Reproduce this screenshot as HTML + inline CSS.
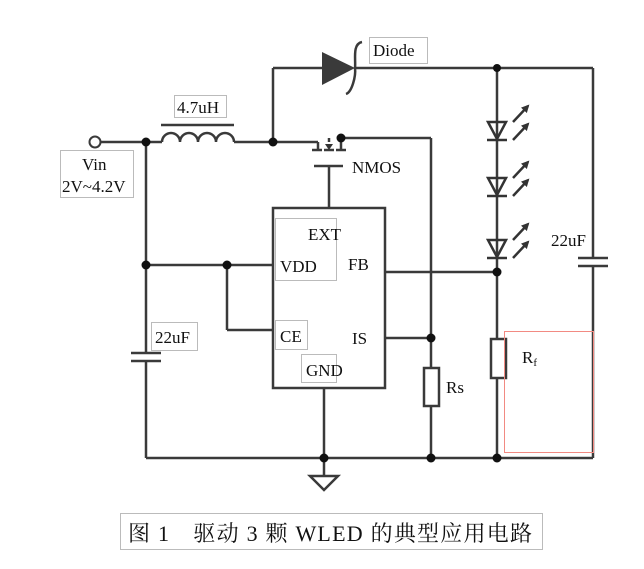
<!DOCTYPE html>
<html><head><meta charset="utf-8"><style>
html,body{margin:0;padding:0;background:#fff;}
svg{display:block;}
text{font-family:"Liberation Serif","Noto Serif CJK SC",serif;fill:#111;}
</style></head><body>
<svg width="644" height="569" viewBox="0 0 644 569" xmlns="http://www.w3.org/2000/svg">
<defs>
<marker id="ar" markerWidth="8" markerHeight="8" refX="6" refY="4" orient="auto" markerUnits="userSpaceOnUse">
<path d="M0,0 L8,4 L0,8 Z" fill="#333"/>
</marker>
<g id="led">
<path d="M-9,0 L9,0 L0,17 Z" fill="none" stroke="#333" stroke-width="2.5"/>
<line x1="-10" y1="18" x2="10" y2="18" stroke="#333" stroke-width="2.5"/>
<line x1="16" y1="18" x2="31" y2="2" stroke="#333" stroke-width="2.5" marker-end="url(#ar)"/>
<line x1="16" y1="0" x2="31" y2="-16" stroke="#333" stroke-width="2.5" marker-end="url(#ar)"/>
</g>
</defs>
<g stroke="#3a3a3a" stroke-width="2.5" fill="none">
<circle cx="95" cy="142" r="5.5" stroke-width="2"/>
<line x1="101" y1="142" x2="162" y2="142"/>
<path d="M162,142 a9,9 0 0 1 18,0 a9,9 0 0 1 18,0 a9,9 0 0 1 18,0 a9,9 0 0 1 18,0"/>
<line x1="161" y1="125" x2="234" y2="125"/>
<line x1="234" y1="142" x2="318" y2="142"/>
<line x1="273" y1="142" x2="273" y2="68"/>
<line x1="273" y1="68" x2="322" y2="68"/>
<line x1="355" y1="68" x2="593" y2="68"/>
<path d="M362,42 C352,44 356,60 355,68 C356,76 352,92 346,94"/>
<line x1="318" y1="142" x2="318" y2="150"/>
<line x1="312" y1="150" x2="322" y2="150"/>
<line x1="324" y1="150" x2="334" y2="150"/>
<line x1="336" y1="150" x2="346" y2="150"/>
<line x1="341" y1="150" x2="341" y2="142"/>
<line x1="329" y1="138" x2="329" y2="142"/>
<line x1="341" y1="138" x2="431" y2="138"/>
<line x1="431" y1="138" x2="431" y2="368"/>
<line x1="314" y1="166" x2="343" y2="166"/>
<line x1="329" y1="166" x2="329" y2="208"/>
<rect x="273" y="208" width="112" height="180"/>
<line x1="146" y1="142" x2="146" y2="353"/>
<line x1="146" y1="361" x2="146" y2="458"/>
<line x1="146" y1="265" x2="273" y2="265"/>
<line x1="227" y1="265" x2="227" y2="330"/>
<line x1="227" y1="330" x2="273" y2="330"/>
<line x1="385" y1="272" x2="497" y2="272"/>
<line x1="385" y1="338" x2="431" y2="338"/>
<rect x="424" y="368" width="15" height="38"/>
<line x1="431" y1="406" x2="431" y2="458"/>
<line x1="324" y1="388" x2="324" y2="476"/>
<path d="M310,476 L338,476 L324,490 Z"/>
<line x1="131" y1="353" x2="161" y2="353"/>
<line x1="131" y1="361" x2="161" y2="361"/>
<line x1="146" y1="458" x2="593" y2="458"/>
<line x1="497" y1="68" x2="497" y2="339"/>
<rect x="491" y="339" width="15" height="39"/>
<line x1="497" y1="378" x2="497" y2="458"/>
<line x1="593" y1="68" x2="593" y2="258"/>
<line x1="578" y1="258" x2="608" y2="258"/>
<line x1="578" y1="266" x2="608" y2="266"/>
<line x1="593" y1="266" x2="593" y2="458"/>
</g>
<path d="M322,52 L322,85 L355,68 Z" fill="#3a3a3a"/>
<path d="M325,144 L333,144 L329,150 Z" fill="#333"/>
<use href="#led" x="497" y="122"/>
<use href="#led" x="497" y="178"/>
<use href="#led" x="497" y="240"/>
<g fill="#111">
<circle cx="146" cy="142" r="4.5"/><circle cx="273" cy="142" r="4.5"/><circle cx="341" cy="138" r="4.5"/>
<circle cx="497" cy="68" r="4"/><circle cx="146" cy="265" r="4.5"/><circle cx="227" cy="265" r="4.5"/>
<circle cx="497" cy="272" r="4.5"/><circle cx="431" cy="338" r="4.5"/>
<circle cx="324" cy="458" r="4.5"/><circle cx="431" cy="458" r="4.5"/><circle cx="497" cy="458" r="4.5"/>
</g>
<g fill="none" stroke="#bbb" stroke-width="1">
<rect x="174.5" y="95.5" width="52" height="22"/>
<rect x="60.5" y="150.5" width="73" height="47"/>
<rect x="369.5" y="37.5" width="58" height="26"/>
<rect x="275.5" y="218.5" width="61" height="62"/>
<rect x="275.5" y="320.5" width="32" height="29"/>
<rect x="301.5" y="354.5" width="35" height="28"/>
<rect x="151.5" y="322.5" width="46" height="28"/>
<rect x="120.5" y="513.5" width="422" height="36"/>
</g>
<rect x="504.5" y="331.5" width="89" height="121" fill="none" stroke="#f28a82" stroke-width="1"/>
<g font-size="17">
<text x="177" y="113">4.7uH</text>
<text x="82" y="170">Vin</text>
<text x="62" y="192">2V~4.2V</text>
<text x="373" y="56">Diode</text>
<text x="352" y="173">NMOS</text>
<text x="308" y="240">EXT</text>
<text x="280" y="272">VDD</text>
<text x="348" y="270">FB</text>
<text x="280" y="342">CE</text>
<text x="352" y="344">IS</text>
<text x="306" y="376">GND</text>
<text x="155" y="343">22uF</text>
<text x="446" y="393">Rs</text>
<text x="551" y="246">22uF</text>
<text x="522" y="363">R<tspan font-size="11" dy="3">f</tspan></text>
</g>
<text x="128" y="541" font-size="22" textLength="404" lengthAdjust="spacing">图 1　驱动 3 颗 WLED 的典型应用电路</text>
</svg>
</body></html>
